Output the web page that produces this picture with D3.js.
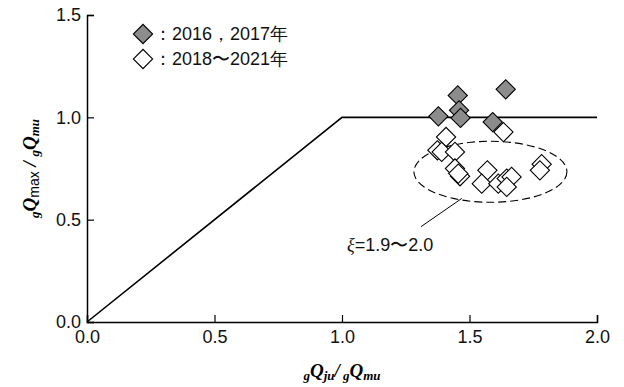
<!DOCTYPE html>
<html>
<head>
<meta charset="utf-8">
<script src="https://cdn.jsdelivr.net/npm/d3@7"></script>
<style>
  body { margin: 0; background: #fff; }
  text { font-family: "Liberation Sans", Arial, sans-serif; }
  .serif { font-family: "Liberation Serif", "Times New Roman", serif; }
</style>
</head>
<body>
<div id="chart"></div>
<script>
// data
const majorTicks = [0, 0.5, 1.0, 1.5, 2.0];
const minorTicks = [0.25, 0.75, 1.25, 1.75];
const limitLine = [[0, 0], [1, 1], [2, 1]];

// 2016, 2017 (filled)
const oldX = [1.454, 1.642, 1.378, 1.459, 1.465, 1.591];
const oldY = [1.107, 1.137, 1.005, 1.034, 0.997, 0.977];

// 2018-2021 (open)
const newX = [1.633, 1.408, 1.374, 1.391, 1.443, 1.443, 1.463, 1.456, 1.570, 1.548, 1.613, 1.646, 1.665, 1.646, 1.783, 1.776];
const newY = [0.928, 0.904, 0.839, 0.831, 0.831, 0.750, 0.712, 0.725, 0.741, 0.676, 0.676, 0.701, 0.709, 0.660, 0.771, 0.741];

// group ellipse (center, radii in data units)
const groupEllipse = { cx: 1.582, cy: 0.734, rx: 0.30, ry: 0.149 };

const W = 624, H = 387;
const margin = { top: 15, right: 27, bottom: 65, left: 87 };
const width = W - margin.left - margin.right;
const height = H - margin.top - margin.bottom;

const svg = d3.select("#chart").append("svg")
    .attr("width", W)
    .attr("height", H);

const g = svg.append("g")
    .attr("transform", `translate(${margin.left},${margin.top})`);

const x = d3.scaleLinear().domain([0, 2]).range([0, width]);
const y = d3.scaleLinear().domain([0, 1.5]).range([height, 0]);

// axes: ticks point inward
const xAxis = g.append("g").attr("transform", `translate(0,${height})`);
xAxis.call(d3.axisBottom(x).tickValues(minorTicks).tickSize(-5).tickFormat(""));
xAxis.call(d3.axisBottom(x).tickValues(majorTicks).tickSize(-7).tickFormat(d3.format(".1f")));

const yAxis = g.append("g");
yAxis.call(d3.axisLeft(y).tickValues(minorTicks.filter(d => d <= 1.5)).tickSize(-5).tickFormat(""));
yAxis.call(d3.axisLeft(y).tickValues(majorTicks.filter(d => d <= 1.5)).tickSize(-7).tickFormat(d3.format(".1f")));

g.selectAll(".domain").attr("stroke", "#000").attr("stroke-width", 1.5);
g.selectAll(".tick line").attr("stroke", "#000").attr("stroke-width", 1.2);
g.selectAll(".tick text")
    .style("font-family", "Liberation Sans, Arial, sans-serif")
    .style("font-size", "18px")
    .attr("fill", "#111");
xAxis.selectAll(".tick text").attr("y", 8).attr("dy", "0.71em");
yAxis.selectAll(".tick text").attr("x", -6);

// limit line
g.append("path")
    .datum(limitLine)
    .attr("fill", "none")
    .attr("stroke", "#000")
    .attr("stroke-width", 1.6)
    .attr("d", d3.line().x(d => x(d[0])).y(d => y(d[1])));

// dashed ellipse around the newer points
g.append("ellipse")
    .attr("cx", x(groupEllipse.cx))
    .attr("cy", y(groupEllipse.cy))
    .attr("rx", x(groupEllipse.rx) - x(0))
    .attr("ry", y(0) - y(groupEllipse.ry))
    .attr("fill", "none")
    .attr("stroke", "#000")
    .attr("stroke-width", 1.1)
    .attr("stroke-dasharray", "8,4");

// leader line and label
g.append("line")
    .attr("x1", x(1.47)).attr("y1", y(0.604))
    .attr("x2", x(1.31)).attr("y2", y(0.466))
    .attr("stroke", "#000").attr("stroke-width", 1);

const xi = g.append("text")
    .attr("x", x(1.02))
    .attr("y", y(0.345))
    .style("font-size", "18px")
    .attr("fill", "#111");
xi.append("tspan").attr("class", "serif").style("font-style", "italic").text("ξ");
xi.append("tspan").text("=1.9〜2.0");

// diamonds
const diamond = d3.symbol().type(d3.symbolSquare).size(185);

g.selectAll(".open")
    .data(newX.map((d, i) => [d, newY[i]]))
    .join("path")
    .attr("class", "open")
    .attr("d", diamond)
    .attr("transform", d => `translate(${x(d[0])},${y(d[1])}) rotate(45)`)
    .attr("fill", "#fff")
    .attr("stroke", "#000")
    .attr("stroke-width", 1.1);

g.selectAll(".filled")
    .data(oldX.map((d, i) => [d, oldY[i]]))
    .join("path")
    .attr("class", "filled")
    .attr("d", diamond)
    .attr("transform", d => `translate(${x(d[0])},${y(d[1])}) rotate(45)`)
    .attr("fill", "#8c8c8c")
    .attr("stroke", "#000")
    .attr("stroke-width", 1.1);

// legend
const legend = [
    { label: "：2016，2017年", fill: "#8c8c8c" },
    { label: "：2018〜2021年", fill: "#fff" }
];
const lg = svg.append("g").attr("transform", "translate(143,34)");
legend.forEach((d, i) => {
    lg.append("path")
        .attr("d", diamond)
        .attr("transform", `translate(0,${i * 25}) rotate(45)`)
        .attr("fill", d.fill)
        .attr("stroke", "#000")
        .attr("stroke-width", 1.1);
    lg.append("text")
        .attr("x", 11)
        .attr("y", i * 25)
        .attr("dy", "0.36em")
        .style("font-size", "18px")
        .attr("fill", "#111")
        .text(d.label);
});

// axis titles
const xt = svg.append("text")
    .attr("class", "serif")
    .attr("x", margin.left + width / 2)
    .attr("y", 377)
    .attr("text-anchor", "middle")
    .style("font-weight", "bold")
    .style("font-style", "italic")
    .style("font-size", "19px");
xt.append("tspan").attr("class", "serif").attr("dy", 3).style("font-size", "13px").text("g");
xt.append("tspan").attr("class", "serif").attr("dy", -3).text("Q");
xt.append("tspan").attr("class", "serif").attr("dy", 3).style("font-size", "13px").text("ju");
xt.append("tspan").attr("class", "serif").attr("dy", -3).text("/");
xt.append("tspan").attr("class", "serif").attr("dy", 3).style("font-size", "13px").text(" g");
xt.append("tspan").attr("class", "serif").attr("dy", -3).text("Q");
xt.append("tspan").attr("class", "serif").attr("dy", 3).style("font-size", "13px").text("mu");

const yt = svg.append("text")
    .attr("class", "serif")
    .attr("transform", `translate(36,${margin.top + height / 2}) rotate(-90)`)
    .attr("text-anchor", "middle")
    .style("font-weight", "bold")
    .style("font-style", "italic")
    .style("font-size", "19px");
yt.append("tspan").attr("class", "serif").attr("dy", 3).style("font-size", "13px").text("g");
yt.append("tspan").attr("class", "serif").attr("dy", -3).text("Q");
yt.append("tspan").attr("dy", 3)
    .style("font-family", "Liberation Sans, Arial, sans-serif")
    .style("font-weight", "normal").style("font-style", "normal")
    .style("font-size", "14px").text("max");
yt.append("tspan").attr("class", "serif").attr("dy", -3).text(" / ");
yt.append("tspan").attr("class", "serif").attr("dy", 3).style("font-size", "13px").text("g");
yt.append("tspan").attr("class", "serif").attr("dy", -3).text("Q");
yt.append("tspan").attr("class", "serif").attr("dy", 3).style("font-size", "13px").text("mu");
</script>
</body>
</html>
